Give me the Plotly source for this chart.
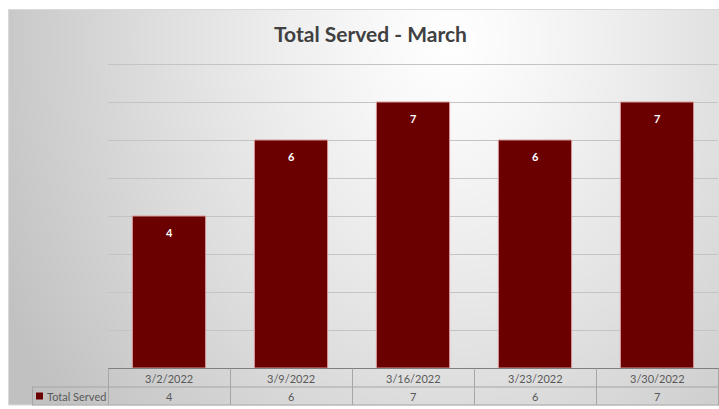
import base64
import struct
import zlib

import plotly.graph_objects as go

# data
dates = ['3/2/2022', '3/9/2022', '3/16/2022', '3/23/2022', '3/30/2022']
total_served = [4, 6, 7, 6, 7]
series_name = 'Total Served'
chart_title = 'Total Served - March'

W, H = 719, 409
L, R, T, B = 108, 1, 64, 41
PW, PH = W - L - R, H - T - B

BAR = '#6b0000'
TXT = '#595959'
LINE = '#a6a6a6'
GRID = '#c4c4c4'
FONT = 'Lato'


def px2x(p):
    return (p - L) / PW


def py2y(p):
    return (H - B - p) / PH


def gradient_png(w, h, box_w, box_h):
    # soft radial grey gradient like the Excel chart area fill
    cx, cy = 442, 31
    raw = b''
    for j in range(h):
        py = (j + 0.5) / h * box_h
        row = bytearray([0])
        for i in range(w):
            px = (i + 0.5) / w * box_w
            r = (((px - cx) / 500) ** 2 + ((py - cy) / 600) ** 2) ** 0.5
            v = 255 - 62 * min(r, 1.0) ** 1.2
            row.append(max(0, min(255, int(v))))
        raw += bytes(row)

    def chunk(tag, data):
        c = struct.pack('>I', len(data)) + tag + data
        return c + struct.pack('>I', zlib.crc32(tag + data) & 0xffffffff)

    png = b'\x89PNG\r\n\x1a\n'
    png += chunk(b'IHDR', struct.pack('>IIBBBBB', w, h, 8, 0, 0, 0, 0))
    png += chunk(b'IDAT', zlib.compress(raw, 9))
    png += chunk(b'IEND', b'')
    return 'data:image/png;base64,' + base64.b64encode(png).decode()


fig = go.Figure()
fig.add_trace(go.Bar(
    x=dates, y=total_served, name=series_name,
    width=0.6,
    marker=dict(color=BAR, line=dict(color='#d99a9a', width=1)),
    hoverinfo='x+y',
))

# chart area background + border
box_x0, box_y0, box_x1, box_y1 = 8, 9, 719, 405
fig.add_layout_image(dict(
    source=gradient_png(180, 100, box_x1 - box_x0, box_y1 - box_y0),
    xref='paper', yref='paper',
    x=px2x(box_x0), y=py2y(box_y0),
    sizex=(box_x1 - box_x0) / PW, sizey=(box_y1 - box_y0) / PH,
    sizing='stretch', layer='below', xanchor='left', yanchor='top',
))

shapes = [
    dict(type='rect', xref='paper', yref='paper',
         x0=px2x(box_x0 + 0.5), x1=px2x(box_x1 + 2), y0=py2y(box_y1), y1=py2y(box_y0 + 0.5),
         line=dict(color='#d9d9d9', width=1), fillcolor='rgba(0,0,0,0)'),
    # top gridline sits on the plot edge, plotly skips it
    dict(type='line', xref='paper', yref='paper', x0=0, x1=1, y0=py2y(T + 0.5), y1=py2y(T + 0.5),
         line=dict(color=GRID, width=1), layer='below'),
]

# data table under the axis
y_top, y_mid, y_bot = 368.5, 387, 405
shapes.append(dict(type='line', xref='paper', yref='paper', x0=px2x(L), x1=px2x(W),
                   y0=py2y(y_top), y1=py2y(y_top), line=dict(color='#7f7f7f', width=1)))
for yy in (y_mid, y_bot):
    shapes.append(dict(type='line', xref='paper', yref='paper', x0=px2x(32), x1=px2x(W),
                       y0=py2y(yy), y1=py2y(yy), line=dict(color=LINE, width=1)))
col_w = PW / len(dates)
for i in range(len(dates) + 1):
    xx = L + 0.5 + i * col_w
    shapes.append(dict(type='line', xref='paper', yref='paper', x0=px2x(xx), x1=px2x(xx),
                       y0=py2y(y_top), y1=py2y(y_bot), line=dict(color=LINE, width=1)))
shapes.append(dict(type='line', xref='paper', yref='paper', x0=px2x(32.5), x1=px2x(32.5),
                   y0=py2y(y_mid), y1=py2y(y_bot), line=dict(color=LINE, width=1)))
shapes.append(dict(type='rect', xref='paper', yref='paper', x0=px2x(36), x1=px2x(43),
                   y0=py2y(399.5), y1=py2y(392.5), line=dict(width=0), fillcolor=BAR))

annotations = []
for d, v in zip(dates, total_served):
    annotations.append(dict(x=d, y=v, xref='x', yref='y', text=f'<b>{v}</b>', showarrow=False,
                            yshift=-16, yanchor='middle',
                            font=dict(family=FONT, size=11, color='white')))
    annotations.append(dict(x=d, y=py2y(378), xref='x', yref='paper', text=d, showarrow=False,
                            yanchor='middle', xanchor='center',
                            font=dict(family=FONT, size=11, color=TXT)))
    annotations.append(dict(x=d, y=py2y(396), xref='x', yref='paper', text=str(v), showarrow=False,
                            yanchor='middle', xanchor='center',
                            font=dict(family=FONT, size=11, color=TXT)))
annotations.append(dict(x=px2x(45), y=py2y(396), xref='paper', yref='paper', text=series_name,
                        showarrow=False, xanchor='left', yanchor='middle',
                        font=dict(family=FONT, size=11, color=TXT)))

fig.update_layout(
    width=W, height=H,
    margin=dict(l=L, r=R, t=T, b=B, pad=0),
    paper_bgcolor='white', plot_bgcolor='rgba(0,0,0,0)',
    showlegend=False,
    title=dict(text=f'<b>{chart_title}</b>', x=370.5 / W, xanchor='center',
               y=1 - 35 / H, yanchor='middle',
               font=dict(family=FONT, size=21, color='#404040')),
    xaxis=dict(showticklabels=False, ticks='', showgrid=False, zeroline=False,
               showline=False, range=[-0.5, len(dates) - 0.5]),
    yaxis=dict(range=[0, 8], dtick=1, showticklabels=False, ticks='', zeroline=False,
               showgrid=True, gridcolor=GRID, gridwidth=1, showline=False),
    shapes=shapes,
    annotations=annotations,
)

# drop the page's default body margin so the figure sits at 0,0
fig.write_html('out.html', config={'displayModeBar': False},
               post_script="document.body.style.margin='0';")
